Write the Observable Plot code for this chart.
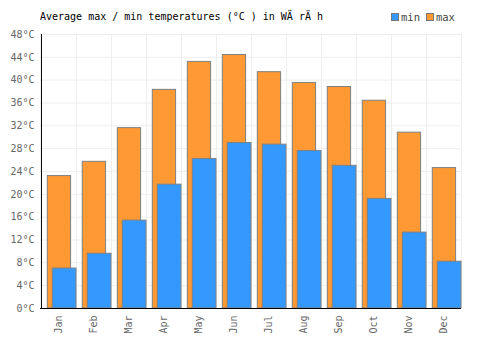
<!DOCTYPE html>
<html>
<head>
<meta charset="utf-8">
<script src="https://cdn.jsdelivr.net/npm/d3@7"></script>
<script src="https://cdn.jsdelivr.net/npm/@observablehq/plot@0.6"></script>
<style>
  html, body { margin: 0; padding: 0; background: #fff; }
  #wrap { position: relative; width: 500px; height: 350px; font-family: "DejaVu Sans Mono", monospace; }
  #title { position: absolute; left: 40px; top: 11px; font-size: 10px; color: #000; white-space: pre; }
  #legend { position: absolute; left: 391px; top: 11px; font-size: 10.5px; color: #444; display: flex; align-items: center; }
  .sw { display: inline-block; width: 6px; height: 6px; border: 1px solid #777; margin-right: 2px; }
  .item { display: flex; align-items: center; margin-right: 6px; }
  svg { position: absolute; left: 0; top: 0; }
</style>
</head>
<body>
<div id="wrap">
  <div id="title">Average max / min temperatures (°C ) in WÄ rÄ h</div>
  <div id="legend"></div>
</div>
<script>
const months = ["Jan","Feb","Mar","Apr","May","Jun","Jul","Aug","Sep","Oct","Nov","Dec"];
const maxTemps = [23.2, 25.7, 31.6, 38.3, 43.2, 44.4, 41.4, 39.5, 38.8, 36.4, 30.8, 24.6];
const minTemps = [7.0, 9.6, 15.4, 21.7, 26.2, 29.0, 28.7, 27.6, 25.0, 19.2, 13.3, 8.2];
const yTicks = [0, 4, 8, 12, 16, 20, 24, 28, 32, 36, 40, 44, 48];
const seriesNames = ["min", "max"];
const seriesColors = ["#3399ff", "#ff9933"];

const maxData = months.map((m, i) => ({month: m, value: maxTemps[i]}));
const minData = months.map((m, i) => ({month: m, value: minTemps[i]}));

const W = 500, H = 350, mL = 40, mR = 39, mT = 34, mB = 42;
const bw = (W - mL - mR) / months.length;

const chart = Plot.plot({
  width: W, height: H,
  marginLeft: mL, marginRight: mR, marginTop: mT, marginBottom: mB,
  style: {fontFamily: "DejaVu Sans Mono, monospace", fontSize: "10px", background: "transparent"},
  x: {type: "band", domain: months, padding: 0, label: null},
  y: {domain: [0, 48], label: null},
  marks: [
    Plot.ruleY(yTicks, {stroke: "#eeeeee", strokeWidth: 1}),
    Plot.ruleX(months, {x: d => d, dx: -bw / 2, stroke: "#eeeeee"}),
    Plot.ruleX(["Dec"], {x: d => d, dx: bw / 2, stroke: "#eeeeee"}),
    Plot.barY(maxData, {x: "month", y: "value", fill: seriesColors[1], stroke: "#808080", strokeWidth: 1, insetLeft: 6.3, insetRight: 5.4}),
    Plot.barY(minData, {x: "month", y: "value", fill: seriesColors[0], stroke: "#808080", strokeWidth: 1, insetLeft: 11.3, insetRight: 0}),
    Plot.ruleY([0], {stroke: "#000", strokeWidth: 1}),
    Plot.ruleX(["Jan"], {x: d => d, dx: -bw / 2, stroke: "#000", strokeWidth: 1}),
    Plot.axisY({ticks: yTicks, tickSize: 0, tickPadding: 6, tickFormat: d => d + "°C", fill: "#666", fontSize: 10, label: null}),
    Plot.axisX({tickSize: 0, tickPadding: 7, tickRotate: -90, fill: "#666", fontSize: 10, label: null})
  ]
});
document.getElementById("wrap").appendChild(chart);

const legend = document.getElementById("legend");
seriesNames.forEach((n, i) => {
  const it = document.createElement("span");
  it.className = "item";
  const sw = document.createElement("span");
  sw.className = "sw";
  sw.style.background = seriesColors[i];
  it.appendChild(sw);
  it.appendChild(document.createTextNode(n));
  legend.appendChild(it);
});
</script>
</body>
</html>
